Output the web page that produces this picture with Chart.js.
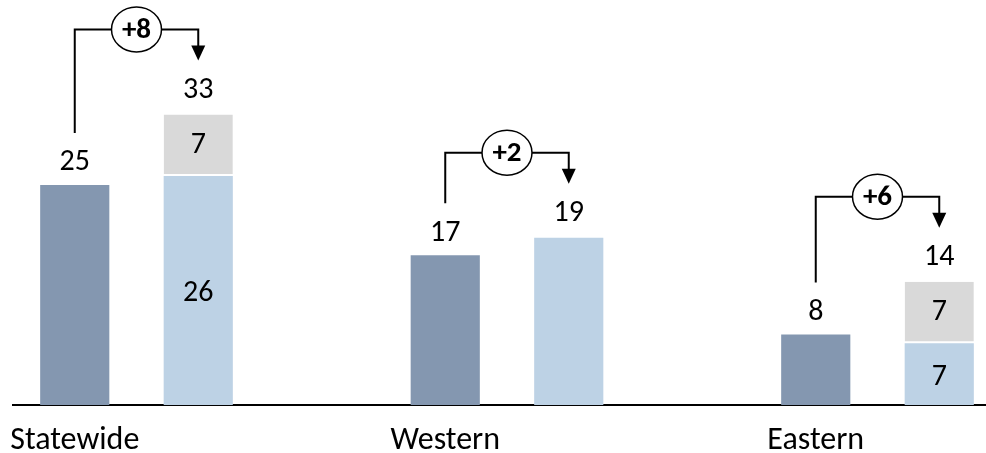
<!DOCTYPE html>
<html>
<head>
<meta charset="utf-8">
<script src="https://cdn.jsdelivr.net/npm/chart.js@4"></script>
<style>
  html, body { margin: 0; padding: 0; background: #fff; overflow: hidden; }
  #wrap { position: absolute; left: 0; top: 0; width: 1001px; height: 453px; }
</style>
</head>
<body>
<div id="wrap"><canvas id="chart"></canvas></div>
<script>
// data
const categories = ['Statewide', 'Western', 'Eastern'];
const before = [25, 17, 8];       // dark bar
const afterBase = [26, 19, 7];    // light blue part of second bar
const afterAdded = [7, 0, 7];     // grey part stacked on top

const FONT = 'Carlito, Lato, sans-serif';
const DARK = '#8497B0';
const LIGHT = '#BDD2E5';
const GREY = '#D9D9D9';

// each category takes 3 slots: dark bar, stacked bar, gap (last gap dropped)
const slotLabels = [];
const darkData = [];
const baseData = [];
const addedData = [];
categories.forEach((c, i) => {
    slotLabels.push(c, '', '');
    darkData.push(before[i], null, null);
    baseData.push(null, afterBase[i], null);
    addedData.push(null, afterAdded[i] > 0 ? afterAdded[i] : null, null);
});
slotLabels.pop(); darkData.pop(); baseData.pop(); addedData.pop();

// numbers on and above the bars
const valueLabels = {
    id: 'valueLabels',
    afterDatasetsDraw(chart) {
        const ctx = chart.ctx;
        const y = chart.scales.y;
        const dark = chart.getDatasetMeta(0).data;
        const base = chart.getDatasetMeta(1).data;
        const added = chart.getDatasetMeta(2).data;
        ctx.save();
        ctx.fillStyle = '#000';
        ctx.font = '30px ' + FONT;
        ctx.textAlign = 'center';
        ctx.textBaseline = 'middle';
        categories.forEach((c, i) => {
            const d = dark[i * 3];
            ctx.fillText(String(before[i]), d.x, d.y - 22);

            const b = base[i * 3 + 1];
            const total = afterBase[i] + afterAdded[i];
            if (afterAdded[i] > 0) {
                const a = added[i * 3 + 1];
                ctx.fillText(String(afterBase[i]), b.x, (b.y + b.base) / 2 + 3);
                ctx.fillText(String(afterAdded[i]), a.x, (a.y + a.base) / 2);
            }
            ctx.fillText(String(total), b.x, y.getPixelForValue(total) - 24);
        });
        ctx.restore();
    }
};

// bracket arrows with the change in a circle
const changeArrows = {
    id: 'changeArrows',
    afterDraw(chart) {
        const ctx = chart.ctx;
        const y = chart.scales.y;
        const dark = chart.getDatasetMeta(0).data;
        const base = chart.getDatasetMeta(1).data;
        ctx.save();
        categories.forEach((c, i) => {
            const total = afterBase[i] + afterAdded[i];
            const x1 = dark[i * 3].x;
            const x2 = base[i * 3 + 1].x;
            const top1 = y.getPixelForValue(before[i]);
            const top2 = y.getPixelForValue(total);
            const lineY = Math.min(top1, top2) - 85;
            const tip = top2 - 54;

            ctx.strokeStyle = '#000';
            ctx.lineWidth = 2;
            ctx.beginPath();
            ctx.moveTo(x1, top1 - 52);
            ctx.lineTo(x1, lineY);
            ctx.lineTo(x2, lineY);
            ctx.lineTo(x2, tip - 14);
            ctx.stroke();

            ctx.fillStyle = '#000';
            ctx.beginPath();
            ctx.moveTo(x2 - 7, tip - 15);
            ctx.lineTo(x2 + 7, tip - 15);
            ctx.lineTo(x2, tip);
            ctx.closePath();
            ctx.fill();

            const cx = (x1 + x2) / 2;
            ctx.beginPath();
            ctx.ellipse(cx, lineY, 25, 22.5, 0, 0, Math.PI * 2);
            ctx.fillStyle = '#fff';
            ctx.fill();
            ctx.lineWidth = 1.5;
            ctx.stroke();

            ctx.fillStyle = '#000';
            ctx.font = 'bold 29px ' + FONT;
            ctx.textAlign = 'center';
            ctx.textBaseline = 'middle';
            const diff = total - before[i];
            ctx.fillText((diff >= 0 ? '+' : '') + diff, cx, lineY + 1);
        });
        ctx.restore();
    }
};

new Chart(document.getElementById('chart'), {
    type: 'bar',
    data: {
        labels: slotLabels,
        datasets: [
            { label: 'Before', data: darkData, backgroundColor: DARK, stack: 's' },
            { label: 'After', data: baseData, backgroundColor: LIGHT, stack: 's' },
            {
                label: 'Added', data: addedData, backgroundColor: GREY, stack: 's',
                borderColor: '#fff', borderSkipped: false,
                borderWidth: { top: 0, left: 0, right: 0, bottom: 2 }
            }
        ]
    },
    options: {
        responsive: true,
        maintainAspectRatio: false,
        animation: false,
        layout: { padding: { left: 13, right: 0, top: 0, bottom: 0 } },
        datasets: { bar: { categoryPercentage: 1, barPercentage: 0.56 } },
        plugins: {
            legend: { display: false },
            tooltip: { enabled: false }
        },
        scales: {
            x: {
                stacked: true,
                grid: { display: true, drawOnChartArea: false, drawTicks: false },
                border: { display: true, color: '#000', width: 2 },
                ticks: {
                    autoSkip: false,
                    maxRotation: 0,
                    color: '#000',
                    padding: 17,
                    font: { family: FONT, size: 32 }
                },
                afterFit(scale) {
                    scale.height = 48;
                    // let the first label hang past the plot edge like the original
                    scale.paddingLeft = 0;
                    scale.paddingRight = 0;
                }
            },
            y: {
                stacked: true,
                display: false,
                min: 0,
                max: 46
            }
        }
    },
    plugins: [valueLabels, changeArrows]
});
</script>
</body>
</html>
